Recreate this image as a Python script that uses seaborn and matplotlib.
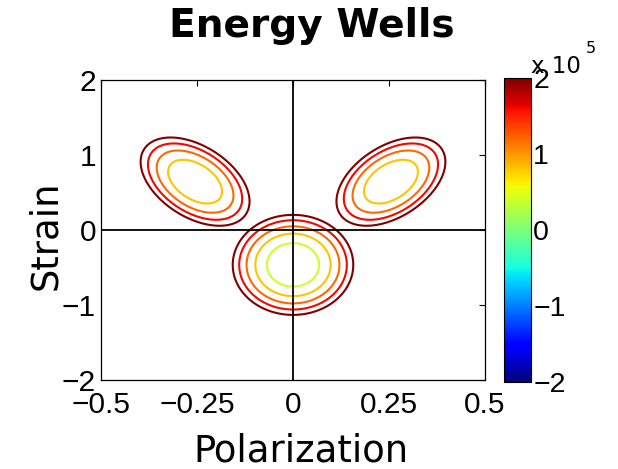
import numpy as np
import matplotlib
matplotlib.use("Agg")
import matplotlib.pyplot as plt
import seaborn as sns
from matplotlib.colors import Normalize
from matplotlib.cm import ScalarMappable

# ---- data (energy in units of 1e5) ----
well_pol = [-0.255, 0.0, 0.255]          # polarization of each well minimum
well_strain = [0.645, -0.465, 0.645]     # strain of each well minimum
well_floor = [0.41, 0.03, 0.41]          # energy at the minimum (x1e5)
curv_pp = [99.0, 80.0, 99.0]             # d2E/dP2 / 2  (x1e5)
curv_ss = [5.75, 4.43, 5.75]             # d2E/de2 / 2  (x1e5)
curv_ps = [10.7, 0.0, -10.7]             # cross term   (x1e5)
contour_levels = [0.4, 0.8, 1.2, 1.6, 2.0]   # x1e5
color_limits = [-2.0, 2.0]                   # x1e5
scale = 1e5

x_ticks = [-0.5, -0.25, 0, 0.25, 0.5]
x_ticklabels = ["\u22120.5", "\u22120.25", "0", "0.25", "0.5"]
y_ticks = [-2, -1, 0, 1, 2]
y_ticklabels = ["\u22122", "\u22121", "0", "1", "2"]
cbar_ticks = [-2, -1, 0, 1, 2]
cbar_ticklabels = ["\u22122", "\u22121", "0", "1", "2"]

# ---- energy surface on a grid ----
P = np.linspace(-0.5, 0.5, 801)
S = np.linspace(-2.0, 2.0, 801)
PP, SS = np.meshgrid(P, S)
wells = []
for p0, s0, f, a, b, c in zip(well_pol, well_strain, well_floor, curv_pp, curv_ss, curv_ps):
    dp = PP - p0
    ds = SS - s0
    wells.append(f + a * dp**2 + 2 * c * dp * ds + b * ds**2)
Z = np.min(np.stack(wells), axis=0) * scale

sns.set_style("white")
plt.rcParams["font.family"] = ["Liberation Sans", "DejaVu Sans"]
plt.rcParams["text.color"] = "black"
plt.rcParams["axes.labelcolor"] = "black"
plt.rcParams["xtick.color"] = "black"
plt.rcParams["ytick.color"] = "black"

cmap = matplotlib.colormaps["jet"]
norm = Normalize(vmin=color_limits[0] * scale, vmax=color_limits[1] * scale)

fig = plt.figure(figsize=(6.18, 4.69), dpi=100)
ax = fig.add_axes([101 / 618, 89 / 469, 384 / 618, 300 / 469])

ax.contour(PP, SS, Z, levels=[l * scale for l in contour_levels],
           cmap=cmap, norm=norm, linewidths=1.5, zorder=2)
ax.axhline(0, color="black", lw=1.3, zorder=3)
ax.axvline(0, color="black", lw=1.3, zorder=3)

ax.set_xlim(-0.5, 0.5)
ax.set_ylim(-2, 2)
ax.set_xticks(x_ticks)
ax.set_xticklabels(x_ticklabels)
ax.set_yticks(y_ticks)
ax.set_yticklabels(y_ticklabels)
ax.tick_params(direction="in", length=4, width=0.8, top=True, right=True,
               labelsize=21.5, colors="black")
ax.tick_params(axis="x", pad=8.2)
ax.tick_params(axis="y", pad=3.5)
for sp in ax.spines.values():
    sp.set_color("black")
    sp.set_linewidth(0.9)
ax.set_facecolor("white")

# colorbar
cax = fig.add_axes([504 / 618, 87.5 / 469, 26.5 / 618, 303.5 / 469])
sm = ScalarMappable(norm=norm, cmap=cmap)
cb = fig.colorbar(sm, cax=cax)
cb.set_ticks([t * scale for t in cbar_ticks])
cb.set_ticklabels(cbar_ticklabels)
cb.outline.set_linewidth(0.8)
cb.outline.set_edgecolor("black")
cax.tick_params(direction="in", length=3, width=0.6, left=True, right=True,
                labelsize=20.5, pad=2, colors="black")
fig.text(531 / 618, 1 - 73.3 / 469, "x 10", fontsize=16.5, ha="left", va="baseline",
         family="DejaVu Sans")
fig.text(586 / 618, 1 - 53.3 / 469, "5", fontsize=11.5, ha="left", va="baseline",
         family="DejaVu Sans")

fig.text(0.504, 1 - 36.7 / 469, "Energy Wells", ha="center", va="baseline",
         fontsize=28.2, fontweight="bold", family="DejaVu Sans")
fig.text(300.8 / 618, 1 - 461.7 / 469, "Polarization", ha="center", va="baseline",
         fontsize=26.6, family="DejaVu Sans")
fig.text(27 / 618, 1 - 235 / 469, "Strain", ha="left", va="center", rotation=90,
         fontsize=26.6, family="DejaVu Sans")

fig.savefig("out.png", dpi=100, facecolor="white")
